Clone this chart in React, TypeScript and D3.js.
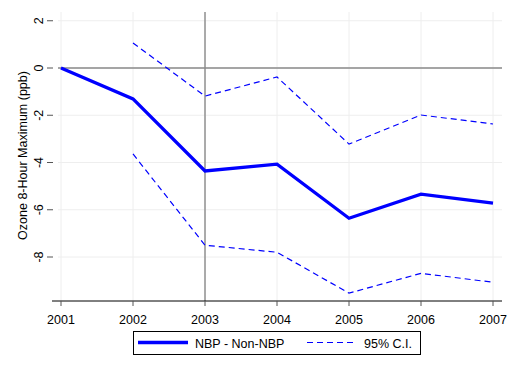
import * as d3 from 'd3'
import React from 'react'

const years = [2001, 2002, 2003, 2004, 2005, 2006, 2007]
const estimate = [0, -1.31, -4.36, -4.07, -6.36, -5.34, -5.72]
const ciYears = [2002, 2003, 2004, 2005, 2006, 2007]
const ciUpper = [1.06, -1.19, -0.38, -3.22, -1.99, -2.37]
const ciLower = [-3.64, -7.5, -7.8, -9.53, -8.69, -9.07]
const yTicks = [2, 0, -2, -4, -6, -8]

const W = 511
const H = 366
const FONT = 'Liberation Sans, Arial, sans-serif'

export default function App() {
  const ref = React.useRef<SVGSVGElement>(null)

  React.useEffect(() => {
    const svg = d3.select(ref.current)
    svg.selectAll('*').remove()

    const left = 58, right = 502, top = 12, bottom = 301
    const x = d3.scaleLinear().domain([2001, 2007]).range([61, 493])
    const y = d3.scaleLinear().domain([0, -8]).range([68, 257])

    // grid
    svg.append('g').selectAll('line').data(yTicks).enter().append('line')
      .attr('x1', left).attr('x2', right)
      .attr('y1', d => y(d)).attr('y2', d => y(d))
      .attr('stroke', '#eeeeee').attr('stroke-width', 1)
    svg.append('g').selectAll('line').data(years).enter().append('line')
      .attr('x1', d => x(d)).attr('x2', d => x(d))
      .attr('y1', top).attr('y2', bottom)
      .attr('stroke', '#eeeeee').attr('stroke-width', 1)

    // reference lines
    svg.append('line')
      .attr('x1', left).attr('x2', right).attr('y1', y(0)).attr('y2', y(0))
      .attr('stroke', '#8a8a8a').attr('stroke-width', 1.4)
    svg.append('line')
      .attr('x1', x(2003)).attr('x2', x(2003)).attr('y1', top).attr('y2', bottom)
      .attr('stroke', '#8a8a8a').attr('stroke-width', 1.4)

    // x axis
    const xAxis = svg.append('g')
    xAxis.append('line')
      .attr('x1', 52).attr('x2', right).attr('y1', bottom).attr('y2', bottom)
      .attr('stroke', '#000').attr('stroke-width', 1)
    xAxis.selectAll('.xt').data(years).enter().append('line')
      .attr('x1', d => x(d)).attr('x2', d => x(d))
      .attr('y1', bottom).attr('y2', bottom + 5)
      .attr('stroke', '#555').attr('stroke-width', 1)
    xAxis.selectAll('text').data(years).enter().append('text')
      .attr('x', d => x(d)).attr('y', bottom + 23)
      .attr('text-anchor', 'middle')
      .attr('font-family', FONT).attr('font-size', 12.5)
      .text(d => d)

    // y axis ticks and labels
    const yAxis = svg.append('g')
    yAxis.selectAll('line').data(yTicks).enter().append('line')
      .attr('x1', 47).attr('x2', 53)
      .attr('y1', d => y(d)).attr('y2', d => y(d))
      .attr('stroke', '#555').attr('stroke-width', 1)
    yAxis.selectAll('text').data(yTicks).enter().append('text')
      .attr('transform', d => `translate(43,${y(d)}) rotate(-90)`)
      .attr('text-anchor', 'middle')
      .attr('font-family', FONT).attr('font-size', 12.5)
      .text(d => d)
    svg.append('text')
      .attr('transform', `translate(27,${(top + bottom) / 2 - 1}) rotate(-90)`)
      .attr('text-anchor', 'middle')
      .attr('font-family', FONT).attr('font-size', 12.5)
      .text('Ozone 8-Hour Maximum (ppb)')

    // data lines
    const line = d3.line<[number, number]>().x(d => x(d[0])).y(d => y(d[1]))
    const ciStyle = (p: any) => p.attr('fill', 'none').attr('stroke', '#0000ff')
      .attr('stroke-width', 1.2).attr('stroke-dasharray', '6,4')
    svg.append('path').datum(ciYears.map((yr, i) => [yr, ciUpper[i]] as [number, number]))
      .attr('d', line).call(ciStyle)
    svg.append('path').datum(ciYears.map((yr, i) => [yr, ciLower[i]] as [number, number]))
      .attr('d', line).call(ciStyle)
    svg.append('path').datum(years.map((yr, i) => [yr, estimate[i]] as [number, number]))
      .attr('d', line)
      .attr('fill', 'none').attr('stroke', '#0000ff').attr('stroke-width', 3.3)
      .attr('stroke-linejoin', 'miter')

    // legend
    const lg = svg.append('g')
    lg.append('rect').attr('x', 133.5).attr('y', 331.5).attr('width', 287).attr('height', 23)
      .attr('fill', '#fff').attr('stroke', '#000').attr('stroke-width', 1)
    lg.append('line').attr('x1', 138).attr('x2', 188).attr('y1', 342.5).attr('y2', 342.5)
      .attr('stroke', '#0000ff').attr('stroke-width', 3.3)
    lg.append('text').attr('x', 195).attr('y', 347.5)
      .attr('font-family', FONT).attr('font-size', 12.5).text('NBP - Non-NBP')
    lg.append('line').attr('x1', 307).attr('x2', 357).attr('y1', 342.5).attr('y2', 342.5)
      .attr('stroke', '#0000ff').attr('stroke-width', 1.2).attr('stroke-dasharray', '6,4')
    lg.append('text').attr('x', 364).attr('y', 347.5)
      .attr('font-family', FONT).attr('font-size', 12.5).text('95% C.I.')
  }, [])

  return (
    <svg ref={ref} width={W} height={H}
      style={{ position: 'absolute', left: 0, top: 0, background: '#fff' }} />
  )
}
